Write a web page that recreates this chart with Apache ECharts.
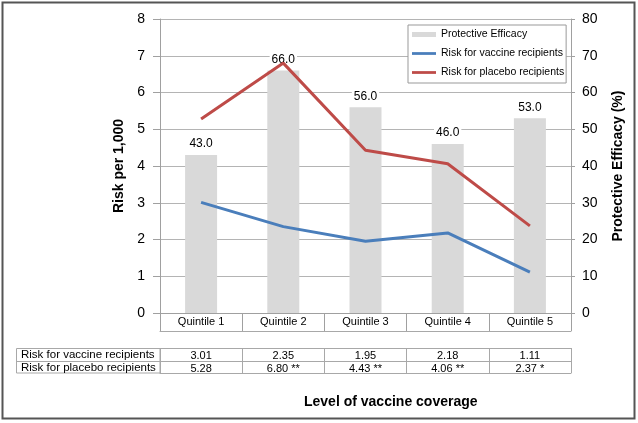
<!DOCTYPE html>
<html>
<head>
<meta charset="utf-8">
<script src="https://cdn.jsdelivr.net/npm/echarts@6/dist/echarts.min.js"></script>
<style>
html,body{margin:0;padding:0;background:#fff;}
#chart{width:638px;height:423px;}
</style>
</head>
<body>
<div id="chart"></div>
<script>
var categories = ['Quintile 1', 'Quintile 2', 'Quintile 3', 'Quintile 4', 'Quintile 5'];
var efficacy = [43.0, 66.0, 56.0, 46.0, 53.0];
var vaccineRisk = [3.01, 2.35, 1.95, 2.18, 1.11];
var placeboRisk = [5.28, 6.80, 4.43, 4.06, 2.37];
var placeboMarks = ['', ' **', ' **', ' **', ' *'];
var rowLabels = ['Risk for vaccine recipients', 'Risk for placebo recipients'];
var leftTicks = [0, 1, 2, 3, 4, 5, 6, 7, 8];

var FONT = 'Liberation Sans, Arial, sans-serif';
var GRID_COLOR = '#b4b4b4';
var AXIS_COLOR = '#a0a0a0';
var TABLE_COLOR = '#a8a8a8';
var LINE_ICON = 'path://M0,0 L26,0 L26,3 L0,3 Z';

var vaccineRow = vaccineRisk.map(function (v) { return v.toFixed(2); });
var placeboRow = placeboRisk.map(function (v, i) { return v.toFixed(2) + placeboMarks[i]; });

function tableAxis(data, offset, tickLen, showLabel) {
  return {
    type: 'category', position: 'bottom', offset: offset, gridIndex: 0,
    data: data, boundaryGap: true,
    axisLine: { show: true, onZero: false, lineStyle: { color: TABLE_COLOR, width: 1 } },
    axisTick: { show: tickLen > 0, length: tickLen, interval: 0, lineStyle: { color: TABLE_COLOR } },
    axisLabel: { show: showLabel, interval: 0, margin: 2, fontSize: 11, color: '#000', fontFamily: FONT },
    splitLine: { show: false }
  };
}

var chart = echarts.init(document.getElementById('chart'), null, { renderer: 'canvas' });
chart.setOption({
  animation: false,
  backgroundColor: '#fff',
  textStyle: { fontFamily: FONT },
  title: {
    text: 'Level of vaccine coverage', left: 304, top: 395, padding: 0,
    textStyle: { fontSize: 14, fontWeight: 'bold', color: '#000', fontFamily: FONT }
  },
  grid: { left: 160, right: 67, top: 19, bottom: 110, containLabel: false },
  legend: {
    orient: 'vertical', left: 408, top: 25,
    padding: [4, 2, 5, 4], itemGap: 8, itemWidth: 24, itemHeight: 5,
    backgroundColor: '#fff', borderColor: '#999', borderWidth: 1,
    textStyle: { fontSize: 10.5, color: '#000', fontFamily: FONT },
    data: [
      { name: 'Protective Efficacy', icon: 'rect' },
      { name: 'Risk for vaccine recipients', icon: LINE_ICON },
      { name: 'Risk for placebo recipients', icon: LINE_ICON }
    ]
  },
  xAxis: [
    {
      type: 'category', data: categories, boundaryGap: true, position: 'bottom',
      axisLine: { show: true, onZero: false, lineStyle: { color: AXIS_COLOR } },
      axisTick: { show: true, length: 18, interval: 0, lineStyle: { color: AXIS_COLOR } },
      axisLabel: { interval: 0, margin: 3, fontSize: 11, color: '#000', fontFamily: FONT },
      splitLine: { show: false }
    },
    tableAxis(categories, 18, 0, false),
    tableAxis(vaccineRow, 35, 13, true),
    tableAxis(placeboRow, 48, 12, true),
    tableAxis(categories, 60, 0, false)
  ],
  yAxis: [
    {
      type: 'value', min: leftTicks[0], max: leftTicks[leftTicks.length - 1], interval: 1, position: 'left',
      name: 'Risk per 1,000', nameLocation: 'middle', nameGap: 24,
      nameTextStyle: { fontSize: 14, fontWeight: 'bold', color: '#000', fontFamily: FONT },
      axisLine: { show: true, lineStyle: { color: AXIS_COLOR } },
      axisTick: { show: true, length: 7, lineStyle: { color: AXIS_COLOR } },
      axisLabel: { margin: 15, fontSize: 14, color: '#000', fontFamily: FONT },
      splitLine: { show: true, lineStyle: { color: GRID_COLOR, width: 1 } }
    },
    {
      type: 'value', min: 0, max: 80, interval: 10, position: 'right',
      name: 'Protective Efficacy (%)', nameLocation: 'middle', nameGap: 40, nameRotate: 90,
      nameTextStyle: { fontSize: 14, fontWeight: 'bold', color: '#000', fontFamily: FONT },
      axisLine: { show: true, lineStyle: { color: AXIS_COLOR } },
      axisTick: { show: true, length: 4, lineStyle: { color: AXIS_COLOR } },
      axisLabel: { margin: 11, fontSize: 14, color: '#000', fontFamily: FONT },
      splitLine: { show: false }
    }
  ],
  graphic: [
    {
      type: 'rect', shape: { x: 16.5, y: 348.5, width: 143.5, height: 24.5 },
      style: { fill: 'none', stroke: TABLE_COLOR, lineWidth: 1 }, z: 10
    },
    {
      type: 'line', shape: { x1: 16.5, y1: 361.5, x2: 160, y2: 361.5 },
      style: { stroke: TABLE_COLOR, lineWidth: 1 }, z: 10
    },
    {
      type: 'text', x: 21, y: 355, z: 10,
      style: { text: rowLabels[0], fontSize: 11.5, fill: '#000', fontFamily: FONT, textVerticalAlign: 'middle', verticalAlign: 'middle' }
    },
    {
      type: 'text', x: 21, y: 367.5, z: 10,
      style: { text: rowLabels[1], fontSize: 11.5, fill: '#000', fontFamily: FONT, textVerticalAlign: 'middle', verticalAlign: 'middle' }
    },
    {
      type: 'rect', shape: { x: 2.5, y: 2.5, width: 632, height: 416 },
      style: { fill: 'none', stroke: '#555', lineWidth: 2 }, z: 10
    }
  ],
  series: [
    {
      name: 'Protective Efficacy', type: 'bar', yAxisIndex: 1, xAxisIndex: 0,
      data: efficacy, barWidth: 32,
      itemStyle: { color: '#d9d9d9' },
      label: {
        show: true, position: 'top', distance: 4,
        formatter: function (p) { return p.value.toFixed(1); },
        fontSize: 12, color: '#000', fontFamily: FONT,
        backgroundColor: '#fff', padding: [1, 2]
      },
      z: 2
    },
    {
      name: 'Risk for vaccine recipients', type: 'line', yAxisIndex: 0, xAxisIndex: 0,
      data: vaccineRisk, symbol: 'none', showSymbol: false,
      lineStyle: { color: '#4a7ebb', width: 3 }, itemStyle: { color: '#4a7ebb' },
      z: 3
    },
    {
      name: 'Risk for placebo recipients', type: 'line', yAxisIndex: 0, xAxisIndex: 0,
      data: placeboRisk, symbol: 'none', showSymbol: false,
      lineStyle: { color: '#be4b48', width: 3 }, itemStyle: { color: '#be4b48' },
      z: 3
    }
  ]
});
</script>
</body>
</html>
